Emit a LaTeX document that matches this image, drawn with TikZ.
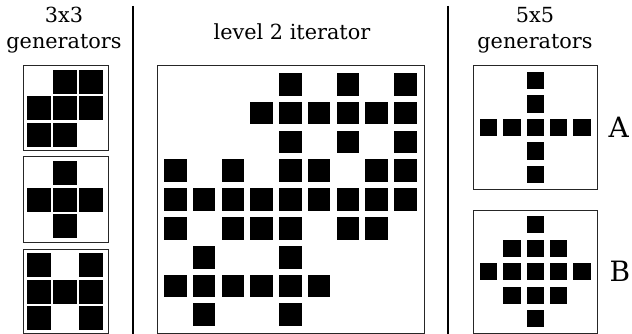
\documentclass[tikz,border=0pt]{standalone}
\usepackage{fontspec}
\setmainfont{DejaVu Serif}
\usetikzlibrary{positioning}
\tikzstyle{frame} = [
    rectangle,
    draw=black!85,
    line width=1pt,
    fill=white
]
\tikzstyle{cell} = [
    fill=black
]
\tikzstyle{title} = [
    font=\fontsize{20.8}{26}\selectfont,
    align=center
]
\tikzstyle{label} = [
    font=\fontsize{28}{30}\selectfont,
    anchor=west,
    inner sep=0pt
]
\tikzstyle{separator} = [line width=2pt, black]

\begin{document}
\begin{tikzpicture}[x=1pt, y=-1pt]

\useasboundingbox (0,0) rectangle (632,334);

% titles
\node (t3) [title] at (64,30) {3x3\\generators};
\node (tlevel) [title] at (292,32) {level 2 iterator};
\node (t5) [title] at (535,30) {5x5\\generators};

% separators
\coordinate (s1top) at (132.5,6);
\coordinate (s1bot) at (132.5,334);
\coordinate (s2top) at (448,6);
\coordinate (s2bot) at (448,334);
\draw [separator] (s1top) -- (s1bot);
\draw [separator] (s2top) -- (s2bot);

% 3x3 generators
\draw [frame] (23,66) rectangle (108,151);
\draw [frame] (23,157) rectangle (108,242);
\draw [frame] (23,249) rectangle (108,333.5);
\foreach \c/\r in {1/0,2/0,0/1,1/1,2/1,0/2,1/2}
    \fill [cell] (27+26*\c,70+26.5*\r) rectangle ++(24,24);
\foreach \c/\r in {1/0,0/1,1/1,2/1,1/2}
    \fill [cell] (27+26*\c,161+26.5*\r) rectangle ++(24,24);
\foreach \c/\r in {0/0,2/0,0/1,1/1,2/1,0/2,2/2}
    \fill [cell] (27+26*\c,253+26.5*\r) rectangle ++(24,24);

% level 2 iterator
\draw [frame] (157,66) rectangle (424,333);
\foreach \r/\cols in {0/{4,6,8}, 1/{3,4,5,6,7,8}, 2/{4,6,8},
    3/{0,2,4,5,7,8}, 4/{0,1,2,3,4,5,6,7,8}, 5/{0,2,3,4,6,7},
    6/{1,4}, 7/{0,1,2,3,4,5}, 8/{1,4}}
    \foreach \c in \cols
        \fill [cell] (164+28.75*\c,73+28.8*\r) rectangle ++(22.7,22.7);

% 5x5 generators
\draw [frame] (473,66) rectangle (597,189);
\draw [frame] (473,210) rectangle (597,333.5);
\foreach \c/\r in {2/0,2/1,0/2,1/2,2/2,3/2,4/2,2/3,2/4}
    \fill [cell] (480+23.3*\c,72+23.5*\r) rectangle ++(17.3,17.3);
\foreach \c/\r in {2/0,1/1,2/1,3/1,0/2,1/2,2/2,3/2,4/2,1/3,2/3,3/3,2/4}
    \fill [cell] (480+23.3*\c,216+23.5*\r) rectangle ++(17.3,17.3);

\node (labA) [label] at (608.5,127.5) {A};
\node (labB) [label] at (609.5,271) {B};

\end{tikzpicture}
\end{document}
